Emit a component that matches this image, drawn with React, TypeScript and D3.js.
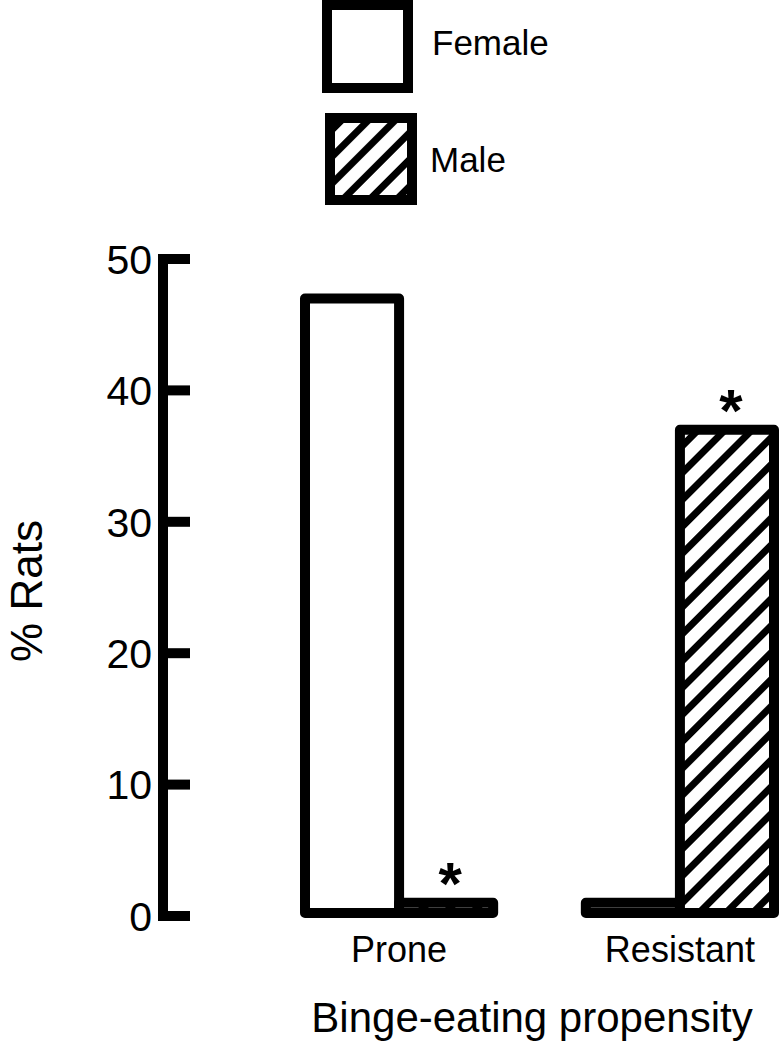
import React from 'react';
import { scaleBand, scaleLinear } from 'd3';

const groups = ['Prone', 'Resistant'];
const sexes = ['Female', 'Male'];
const femaleValues = [47, 1];
const maleValues = [1, 37];
const maleSignificant = [true, true];
const yTicks = [0, 10, 20, 30, 40, 50];

const width = 780;
const height = 1046;
const font = 'Liberation Sans, Arial, Helvetica, sans-serif';

const App = () => {
  const yScale = scaleLinear().domain([0, 50]).range([916, 259]);

  const xGroup = scaleBand()
    .domain(groups)
    .range([305, 774])
    .paddingInner(0.33)
    .paddingOuter(0);

  const xSex = scaleBand().domain(sexes).range([0, xGroup.bandwidth()]);

  const rows = groups.map((g, i) => ({
    group: g,
    Female: femaleValues[i],
    Male: maleValues[i],
    star: maleSignificant[i],
  }));

  const fillFor = (s: string) => (s === 'Male' ? 'url(#hatch)' : '#fff');

  return (
    <svg
      width={width}
      height={height}
      style={{ position: 'absolute', left: 0, top: 0, background: '#fff' }}
    >
      <defs>
        <pattern
          id="hatch"
          patternUnits="userSpaceOnUse"
          width={19}
          height={19}
          patternTransform="rotate(45)"
        >
          <rect width={19} height={19} fill="#fff" />
          <rect x={0} y={0} width={7} height={19} fill="#000" />
        </pattern>
      </defs>

      {/* legend */}
      <rect x={327} y={5} width={81} height={83} fill="#fff" stroke="#000" strokeWidth={10} />
      <text x={432} y={55} fontFamily={font} fontSize={35}>Female</text>
      <rect x={330} y={118} width={82} height={82} fill="url(#hatch)" stroke="#000" strokeWidth={10} />
      <text x={430} y={172} fontFamily={font} fontSize={35}>Male</text>

      {/* y axis */}
      <line x1={163} x2={163} y1={yScale(50) - 5} y2={yScale(0) + 5} stroke="#000" strokeWidth={10} />
      {yTicks.map(t => (
        <g key={t}>
          <line x1={158} x2={190} y1={yScale(t)} y2={yScale(t)} stroke="#000" strokeWidth={10} />
          <text
            x={152}
            y={yScale(t)}
            dy="0.36em"
            textAnchor="end"
            fontFamily={font}
            fontSize={41}
          >
            {t}
          </text>
        </g>
      ))}
      <text
        transform={`translate(42, 591) rotate(-90)`}
        textAnchor="middle"
        fontFamily={font}
        fontSize={44}
      >
        % Rats
      </text>

      {/* bars */}
      {rows.map(r => (
        <g key={r.group} transform={`translate(${xGroup(r.group)}, 0)`}>
          {sexes.map(s => {
            const v = (r as any)[s] as number;
            return (
              <rect
                key={s}
                x={xSex(s)}
                y={yScale(v)}
                width={xSex.bandwidth()}
                height={yScale(0) - yScale(v) - 3}
                fill={fillFor(s)}
                stroke="#000"
                strokeWidth={10}
                strokeLinejoin="round"
              />
            );
          })}
          {r.star && (
            <text
              x={(xSex('Male') as number) + xSex.bandwidth() / 2 + 4}
              y={yScale(r.Male) + 1}
              textAnchor="middle"
              fontFamily={font}
              fontWeight="bold"
              fontSize={60}
            >
              *
            </text>
          )}
          <text
            x={xGroup.bandwidth() / 2}
            y={962}
            textAnchor="middle"
            fontFamily={font}
            fontSize={36}
          >
            {r.group}
          </text>
        </g>
      ))}

      <text x={532} y={1032} textAnchor="middle" fontFamily={font} fontSize={42}>
        Binge-eating propensity
      </text>
    </svg>
  );
};

export default App;
